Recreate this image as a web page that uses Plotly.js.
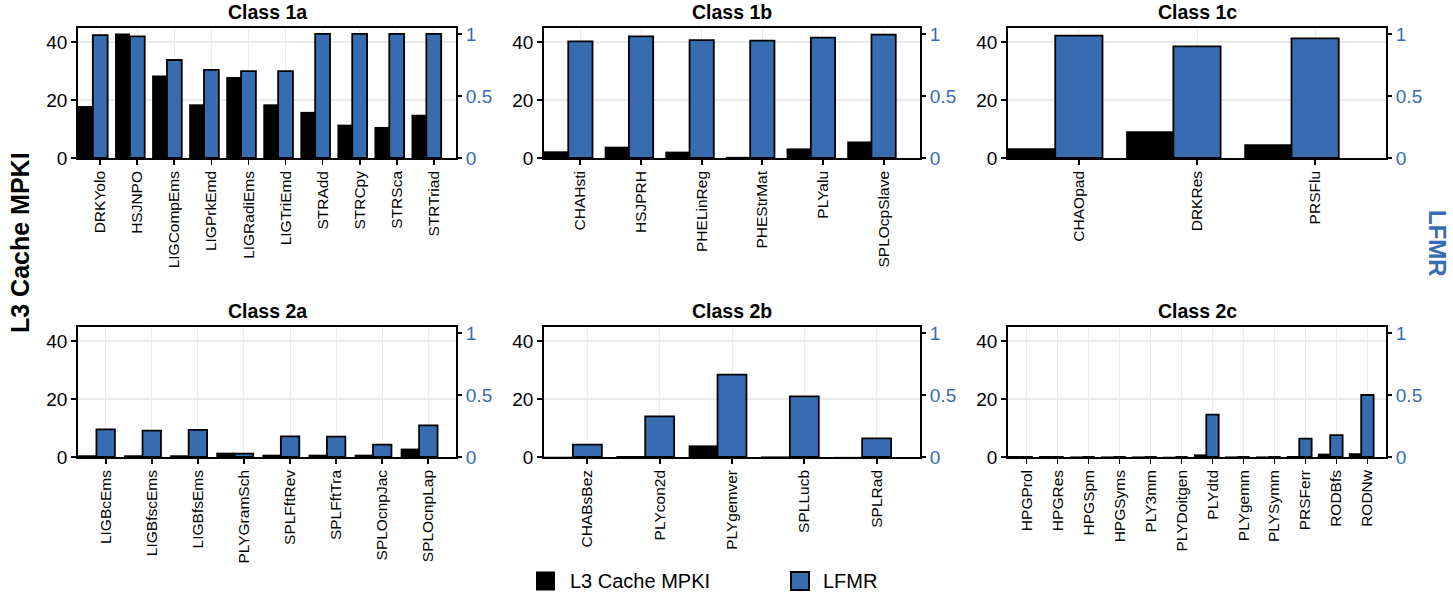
<!DOCTYPE html>
<html>
<head>
<meta charset="utf-8">
<script src="https://cdn.plot.ly/plotly-3.0.1.min.js"></script>
<style>
  html, body { margin: 0; padding: 0; background: #ffffff; }
  #chart { width: 1453px; height: 598px; }
</style>
</head>
<body>
<div id="chart"></div>
<script>
// Panel titles
const panelTitles = ["Class 1a", "Class 1b", "Class 1c", "Class 2a", "Class 2b", "Class 2c"];

// Class 1a
const cats1a = ["DRKYolo", "HSJNPO", "LIGCompEms", "LIGPrkEmd", "LIGRadiEms", "LIGTriEmd", "STRAdd", "STRCpy", "STRSca", "STRTriad"];
const mpki1a = [17.9, 42.9, 28.4, 18.5, 27.9, 18.5, 15.9, 11.5, 10.7, 14.9];
const lfmr1a = [0.99, 0.98, 0.79, 0.71, 0.70, 0.70, 1.0, 1.0, 1.0, 1.0];

// Class 1b
const cats1b = ["CHAHsti", "HSJPRH", "PHELinReg", "PHEStrMat", "PLYalu", "SPLOcpSlave"];
const mpki1b = [2.3, 3.9, 2.2, 0.4, 3.3, 5.7];
const lfmr1b = [0.94, 0.98, 0.95, 0.946, 0.97, 0.994];

// Class 1c
const cats1c = ["CHAOpad", "DRKRes", "PRSFlu"];
const mpki1c = [3.4, 9.2, 4.7];
const lfmr1c = [0.986, 0.90, 0.965];

// Class 2a
const cats2a = ["LIGBcEms", "LIGBfscEms", "LIGBfsEms", "PLYGramSch", "SPLFftRev", "SPLFftTra", "SPLOcnpJac", "SPLOcnpLap"];
const mpki2a = [0.6, 0.6, 0.6, 1.5, 0.8, 0.8, 0.8, 2.9];
const lfmr2a = [0.223, 0.212, 0.218, 0.027, 0.167, 0.164, 0.10, 0.255];

// Class 2b
const cats2b = ["CHABsBez", "PLYcon2d", "PLYgemver", "SPLLucb", "SPLRad"];
const mpki2b = [0.1, 0.35, 4.0, 0.2, 0.05];
const lfmr2b = [0.10, 0.328, 0.664, 0.489, 0.15];

// Class 2c
const cats2c = ["HPGProl", "HPGRes", "HPGSpm", "HPGSyms", "PLY3mm", "PLYDoitgen", "PLYdtd", "PLYgemm", "PLYSymm", "PRSFerr", "RODBfs", "RODNw"];
const mpki2c = [0.35, 0.35, 0.2, 0.2, 0.2, 0.1, 0.9, 0.2, 0.2, 0.35, 1.15, 1.3];
const lfmr2c = [0, 0, 0, 0, 0, 0, 0.341, 0, 0, 0.148, 0.177, 0.5];

// Axis ticks
const leftTicks = [0, 20, 40];
const leftTickText = ["0", "20", "40"];
const rightTicks = [0, 0.5, 1];
const rightTickText = ["0", "0.5", "1"];

// Series names
const seriesNames = ["L3 Cache MPKI", "LFMR"];

const panels = [
  [cats1a, mpki1a, lfmr1a],
  [cats1b, mpki1b, lfmr1b],
  [cats1c, mpki1c, lfmr1c],
  [cats2a, mpki2a, lfmr2a],
  [cats2b, mpki2b, lfmr2b],
  [cats2c, mpki2c, lfmr2c]
];

const W = 1453, H = 598;
const BLUE = "#386CB0";
const FONT = "Liberation Sans, Arial, sans-serif";
const colPx = [[78, 456], [544, 920], [1008, 1386]];
const rowPx = [[28, 158], [327, 457]];
const LEFT_MAX = 44.8, RIGHT_MAX = 1.048;

const traces = [];
const layout = {
  width: W, height: H,
  margin: {l: 0, r: 0, t: 0, b: 0},
  paper_bgcolor: "#ffffff",
  plot_bgcolor: "#ffffff",
  barmode: "overlay",
  showlegend: false,
  font: {family: FONT, color: "#000000"},
  annotations: [],
  shapes: []
};

panels.forEach((p, i) => {
  const [cats, mpki, lfmr] = p;
  const n = i + 1;
  const col = i % 3, row = Math.floor(i / 3);
  const xName = n === 1 ? "x" : "x" + n;
  const yL = 2 * i + 1, yR = 2 * i + 2;
  const yLName = yL === 1 ? "y" : "y" + yL;
  const yRName = "y" + yR;

  // MPKI bars sit left of each tick, LFMR bars right next to them
  traces.push({
    type: "bar", x: cats, y: mpki, name: seriesNames[0],
    xaxis: xName, yaxis: yLName,
    offset: -0.6, width: 0.4,
    marker: {color: "#000000", line: {width: 0}},
    hoverinfo: "x+y"
  });
  traces.push({
    type: "bar", x: cats, y: lfmr, name: seriesNames[1],
    xaxis: xName, yaxis: yRName,
    offset: -0.2, width: 0.4,
    marker: {color: BLUE, line: {color: "#000000", width: 1.8}},
    hoverinfo: "x+y"
  });

  const xd = [colPx[col][0] / W, colPx[col][1] / W];
  const yd = [1 - rowPx[row][1] / H, 1 - rowPx[row][0] / H];

  layout["xaxis" + (n === 1 ? "" : n)] = {
    domain: xd, anchor: yLName, type: "category",
    range: [-0.6, cats.length - 0.4],
    tickmode: "array", tickvals: cats, ticktext: cats,
    tickangle: -90,
    tickfont: {size: 15.5, family: FONT, color: "#000000"},
    ticks: "outside", ticklen: 5, tickwidth: 1.8, tickcolor: "#000000",
    showgrid: true, gridcolor: "#EBEBEB", gridwidth: 1,
    showline: true, linecolor: "#000000", linewidth: 1.8, mirror: true,
    zeroline: false, fixedrange: true
  };
  layout["yaxis" + (yL === 1 ? "" : yL)] = {
    domain: yd, anchor: xName,
    range: [0, LEFT_MAX],
    tickmode: "array", tickvals: leftTicks, ticktext: leftTickText,
    tickfont: {size: 19, family: FONT, color: "#000000"},
    ticks: "outside", ticklen: 5, tickwidth: 1.8, tickcolor: "#000000",
    showgrid: true, gridcolor: "#EBEBEB", gridwidth: 1.2,
    showline: true, linecolor: "#000000", linewidth: 1.8, mirror: true,
    zeroline: false, fixedrange: true
  };
  layout["yaxis" + yR] = {
    domain: yd, anchor: xName, overlaying: yLName, side: "right",
    range: [0, RIGHT_MAX],
    tickmode: "array", tickvals: rightTicks, ticktext: rightTickText,
    tickfont: {size: 19, family: FONT, color: BLUE},
    ticks: "outside", ticklen: 5, tickwidth: 1.8, tickcolor: "#000000",
    showgrid: false, showline: false,
    zeroline: false, fixedrange: true
  };

  // panel title
  layout.annotations.push({
    text: "<b>" + panelTitles[i] + "</b>",
    xref: "paper", yref: "paper",
    x: (xd[0] + xd[1]) / 2, y: 1 - (rowPx[row][0] - 16) / H,
    xanchor: "center", yanchor: "middle", showarrow: false,
    font: {size: 19.5, family: FONT, color: "#000000"}
  });
});

// axis titles
layout.annotations.push({
  text: "<b>L3 Cache MPKI</b>", xref: "paper", yref: "paper",
  x: 20 / W, y: 1 - 243 / H, xanchor: "center", yanchor: "middle",
  textangle: -90, showarrow: false,
  font: {size: 25, family: FONT, color: "#000000"}
});
layout.annotations.push({
  text: "<b>LFMR</b>", xref: "paper", yref: "paper",
  x: 1438 / W, y: 1 - 243 / H, xanchor: "center", yanchor: "middle",
  textangle: 90, showarrow: false,
  font: {size: 24, family: FONT, color: BLUE}
});

// legend keys and labels
const legendY = 581;
layout.shapes.push({
  type: "rect", xref: "paper", yref: "paper",
  x0: 536 / W, x1: 555 / W, y0: 1 - (legendY + 9.5) / H, y1: 1 - (legendY - 9.5) / H,
  fillcolor: "#000000", line: {width: 0}
});
layout.shapes.push({
  type: "rect", xref: "paper", yref: "paper",
  x0: 791 / W, x1: 809 / W, y0: 1 - (legendY + 9) / H, y1: 1 - (legendY - 9) / H,
  fillcolor: BLUE, line: {color: "#000000", width: 2}
});
layout.annotations.push({
  text: seriesNames[0], xref: "paper", yref: "paper",
  x: 568 / W, y: 1 - legendY / H, xanchor: "left", yanchor: "middle",
  showarrow: false, font: {size: 20, family: FONT, color: "#000000"}
});
layout.annotations.push({
  text: seriesNames[1], xref: "paper", yref: "paper",
  x: 821 / W, y: 1 - legendY / H, xanchor: "left", yanchor: "middle",
  showarrow: false, font: {size: 20, family: FONT, color: "#000000"}
});

Plotly.newPlot("chart", traces, layout, {displayModeBar: false, staticPlot: true});
</script>
</body>
</html>
